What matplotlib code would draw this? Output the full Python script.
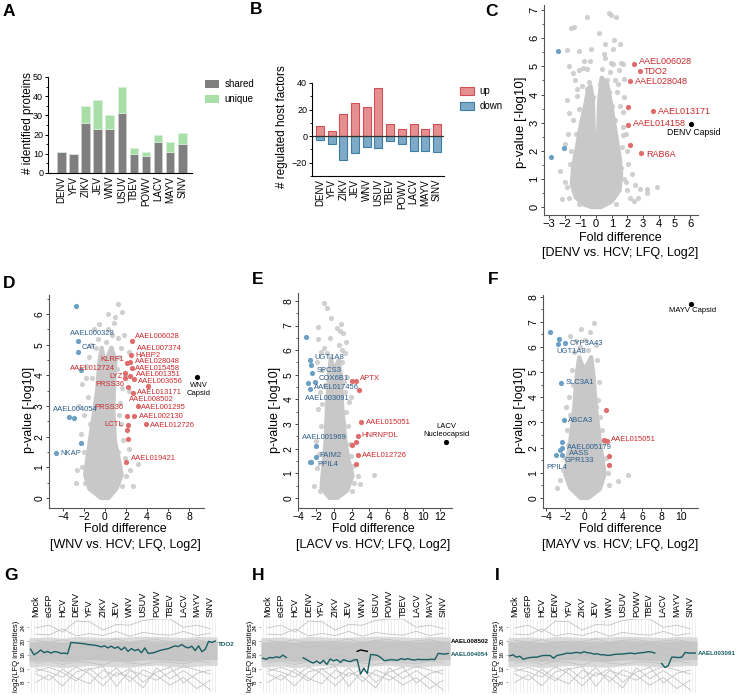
import numpy as np
import matplotlib
matplotlib.use('Agg')
import matplotlib.pyplot as plt
from matplotlib.patches import Patch
from matplotlib.ticker import MultipleLocator
from matplotlib.transforms import blended_transform_factory

plt.rcParams['font.family'] = ['Liberation Sans', 'DejaVu Sans']

# ======================= DATA =======================
viruses = ['DENV', 'YFV', 'ZIKV', 'JEV', 'WNV', 'USUV', 'TBEV', 'POWV', 'LACV', 'MAYV', 'SINV']
A_shared = [11, 10, 26, 23, 23, 31, 10, 9, 16, 11, 15]
A_unique = [0, 0, 9, 15, 7, 14, 3, 2, 4, 5, 6]
B_up = [8, 4, 17, 25, 22, 36, 9, 5, 9, 5, 9]
B_down = [-3, -6, -18, -13, -8, -9, -4, -6, -11, -11, -12]

# ---- volcano C (DENV vs HCV)
C_up_x = [2.43, 2.81, 2.19, 2.06, 3.66, 2.06, 2.17, 2.87]
C_up_y = [5.08, 4.84, 4.47, 3.56, 3.41, 2.91, 2.20, 1.93]
C_dn_x = [-2.40, -2.04, -2.87]
C_dn_y = [5.54, 2.10, 1.77]
C_cap = (6.08, 2.95)
C_core_x = [0.3, 1.0, 1.5, 1.6, 1.5, 1.35, 1.15, 0.95, 0.7, 0.35, 0.2, 0.04, -0.04, -0.2, -0.35, -0.5, -0.7, -0.95, -1.2, -1.45, -1.55, -1.3, -0.8, -0.3]
C_core_y = [0.0, 0.2, 0.6, 1.2, 1.8, 2.3, 3.0, 3.7, 4.4, 4.6, 3.8, 0.9, 0.9, 3.8, 4.3, 4.2, 3.6, 3.0, 2.2, 1.5, 0.8, 0.35, 0.1, 0.0]
C_gx = [-0.55, 0.85, 0.94, 1.25, -1.6, -1.38, 0.57, 1.14, -1.06, -1.87, 0.53, 1.5, -1.7, -0.85, -0.6, 0.94, 1.06, 1.6, 1.7, 1.45,
        -1.44, -1.06, -1.32, -0.45, 0.26, 0.68, 1.4, 1.81, -1.87, -1.19, -0.17, 0.57, 1.32, 1.79, -1.7, 1.72, 1.23, 1.74, 1.74, -1.76,
        -1.98, -1.02, 1.64, 1.96, -1.68, 2.06, 2.28, -1.87, -1.7, 2.81, 3.23, 3.87, 3.23, 2.17, 2.7,
        -1.2, 0.9, 1.2, -0.9, 1.55, -1.5, 1.9, -1.6, 1.8, 2.0, -2.0, -2.2, 1.3, 2.4, -1.1, 0.6, -0.3, 0.2, -0.8, 1.0,
        -1.3, 0.8, -0.6, 1.6, -1.5, 1.9, 2.5, -2.3, 1.1, -1.1, -0.4, 0.4]
C_gy = [6.77, 6.88, 6.83, 6.77, 6.38, 6.40, 5.81, 5.93, 5.54, 5.57, 5.44, 5.80, 5.02, 4.93, 4.90, 5.13, 5.08, 5.13, 5.08, 4.87,
        4.77, 4.86, 4.51, 4.45, 4.38, 4.50, 4.38, 4.56, 3.80, 3.94, 3.92, 3.80, 4.10, 3.92, 3.33, 3.39, 3.09, 2.85, 2.56, 2.59,
        2.23, 1.99, 2.12, 1.99, 1.52, 1.52, 1.16, 0.70, 0.34, 0.66, 0.66, 0.70, 0.50, 0.34, 0.34,
        4.2, 4.8, 4.5, 4.3, 3.6, 3.1, 2.6, 2.0, 1.0, 0.6, 0.9, 0.3, 0.1, 0.2, 0.1, 5.3, 5.6, 6.2, 5.2, 3.6,
        2.6, 4.1, 4.2, 1.4, 1.1, 0.9, 0.8, 1.3, 5.6, 3.5, 5.2, 4.9]

# ---- volcano D (WNV vs HCV)
D_up_x = [2.57, 2.48, 2.06, 2.38, 2.60, 1.94, 2.38, 2.79, 1.95, 4.06, 2.16, 2.63, 3.11, 2.06, 2.79, 3.87, 2.16, 2.10, 2.22, 1.97]
D_up_y = [5.13, 4.67, 4.40, 4.42, 4.25, 4.09, 3.98, 3.87, 3.92, 3.64, 3.61, 3.41, 3.00, 2.68, 2.67, 2.40, 2.37, 2.22, 1.91, 1.18]
D_dn_x = [-2.76, -2.57, -2.60, -2.32, -3.40, -2.95, -2.30, -4.67]
D_dn_y = [6.27, 5.12, 4.77, 4.16, 2.65, 2.62, 1.78, 1.46]
D_cap = (8.79, 3.93)
D_core_x = [0.35, 1.1, 1.6, 1.3, 0.95, 0.8, 0.9, 1.0, 0.6, 0.15, 0.03, -0.03, -0.15, -0.3, -0.55, -0.75, -1.0, -1.45, -1.9, -1.5, -0.4]
D_core_y = [0.0, 0.3, 0.75, 1.3, 1.85, 2.9, 4.0, 4.5, 4.9, 4.5, 1.0, 1.0, 4.6, 4.9, 4.4, 3.5, 2.9, 1.85, 0.75, 0.3, 0.0]
D_gx = [1.27, 1.59, -0.54, 0.63, 1.27, 0.3, 0.9, -1.3, 1.5, -1.8, -0.9, 1.3, -2.2, 1.6, -1.6, 1.4, -2.0, 1.5, -2.3, 1.7,
        -2.63, 1.9, -2.8, 2.0, 2.4, 3.1, 2.7, -2.0, 1.0, -1.0, 2.3, 2.25, 1.8, -1.5, 0.3, -2.5, -1.2, 1.1, -1.4, 1.2,
        -1.9, 1.6, 2.3, -0.7, 0.6, 1.9, -2.2, 1.3, -1.8, 0.1]
D_gy = [6.34, 6.06, 5.67, 5.32, 5.21, 5.5, 5.7, 5.0, 4.9, 4.3, 4.9, 4.6, 3.7, 3.6, 3.3, 3.1, 2.7, 2.4, 2.1, 1.9,
        0.9, 1.3, 0.5, 0.7, 0.9, 1.1, 0.4, 1.5, 5.9, 5.5, 3.5, 4.75, 5.3, 4.6, 6.0, 3.0, 3.9, 4.2, 2.4, 1.5,
        0.5, 0.4, 1.6, 5.2, 4.9, 4.0, 1.0, 2.7, 3.9, 5.1]

# ---- volcano E (LACV vs HCV)
E_up_x = [1.98, 2.43, 2.80, 3.10, 2.73, 2.43, 1.98, 2.69, 2.43]
E_up_y = [4.75, 4.75, 4.38, 3.07, 2.51, 2.25, 2.14, 1.74, 1.36]
E_dn_x = [-3.18, -2.69, -2.54, -2.50, -2.17, -2.92, -2.69, -2.06, -2.06, -2.73, -2.54]
E_dn_y = [6.55, 5.60, 5.40, 5.06, 4.72, 4.65, 4.41, 2.10, 1.67, 1.44, 1.44]
E_cap = (12.63, 2.25)
E_core_x = [0.4, 1.5, 2.1, 1.6, 1.3, 0.95, 0.75, 0.55, 0.12, 0.03, -0.03, -0.12, -0.35, -0.55, -0.8, -0.95, -1.3, -1.4, -0.5]
E_core_y = [0.0, 0.3, 0.9, 1.6, 2.3, 3.6, 5.0, 5.6, 5.3, 1.2, 1.2, 5.3, 5.7, 5.0, 3.6, 2.3, 0.9, 0.4, 0.0]
E_gx = [-1.12, -0.75, -1.79, 0.75, 0.67, 1.0, 1.31, -1.76, -1.12, -1.5, 0.6, -0.5, 1.2, -1.9, 0.9, -1.3, 1.5, -1.6, 1.2, -1.8,
        1.4, 1.6, -1.5, 1.8, -1.7, 2.2, -1.9, 4.48, 2.99, 2.3, -2.2, 2.7, 0.3, 1.1, -0.3, 1.9, -1.0, 0.9, -0.8, 1.7,
        -1.3, 1.0, -2.0, 1.9, -1.4, 1.5, -1.6, 2.0]
E_gy = [7.91, 7.73, 6.93, 7.06, 6.78, 6.69, 6.35, 6.45, 6.08, 5.94, 6.2, 6.5, 5.9, 5.5, 5.5, 5.2, 4.9, 4.3, 4.3, 3.6,
        3.5, 2.9, 2.9, 2.2, 1.8, 1.3, 1.2, 0.92, 0.58, 0.6, 0.5, 0.9, 6.9, 4.7, 7.3, 4.1, 4.6, 6.0, 5.9, 3.9,
        3.8, 3.0, 2.3, 1.7, 1.4, 0.7, 0.3, 0.3]

# ---- volcano F (MAYV vs HCV)
F_up_x = [2.24, 2.03, 2.31, 2.59, 2.55]
F_up_y = [3.51, 2.31, 2.25, 1.65, 1.32]
F_dn_x = [-3.55, -2.69, -2.76, -2.07, -2.41, -2.17, -2.34, -2.34, -2.59, -2.93, -2.34]
F_dn_y = [6.59, 6.32, 6.12, 6.18, 4.59, 3.11, 2.21, 1.98, 1.89, 1.72, 1.72]
F_cap = (11.1, 7.71)
F_core_x = [0.4, 1.6, 2.1, 1.6, 1.2, 0.93, 0.7, 0.15, 0.03, -0.03, -0.15, -0.55, -0.8, -1.07, -1.48, -2.0, -1.5, -0.4]
F_core_y = [0.0, 0.35, 0.95, 2.25, 3.57, 4.9, 5.6, 5.2, 1.2, 1.2, 5.2, 5.6, 4.9, 3.57, 2.25, 0.95, 0.4, 0.0]
F_gx = [1.03, -1.48, -0.9, -0.62, 0.4, 1.3, -1.3, 1.5, -1.6, 1.4, -1.5, 1.6, -1.8, 1.9, -2.0, 2.2, 4.55, 3.45, -2.59, -2.86,
        2.4, -0.4, 0.1, -1.1, 1.2, 0.8, -1.9, 1.0, -1.2, 0.9, -0.5, 1.8, -1.7, 2.6, -2.2, 1.5, -0.9, 1.2, 0.6, -1.3]
F_gy = [6.94, 6.42, 6.24, 5.38, 5.9, 5.5, 5.1, 4.6, 4.0, 3.9, 3.3, 3.2, 2.7, 2.2, 1.6, 1.6, 0.9, 0.66, 0.73, 0.4,
        1.0, 6.7, 6.3, 5.8, 6.1, 5.1, 3.6, 2.0, 4.5, 4.4, 6.0, 2.7, 2.1, 0.5, 1.1, 1.3, 4.1, 3.6, 6.6, 2.5]

# ---- profile panels G/H/I
conditions = ['Mock', 'eGFP', 'HCV', 'DENV', 'YFV', 'ZIKV', 'JEV', 'WNV', 'USUV', 'POWV', 'TBEV', 'LACV', 'MAYV', 'SINV']
band_outer_hi = [21.0, 21.2, 20.8, 21.3, 21.2, 21.0, 21.1, 21.2, 21.4, 21.3, 21.2, 21.0, 21.3, 21.2]
band_outer_lo = [12.5, 12.8, 12.2, 12.6, 12.9, 12.7, 12.5, 12.4, 12.8, 13.0, 12.6, 12.4, 12.7, 12.9]
band_inner_hi = [19.8, 20.0, 19.6, 20.1, 19.9, 19.8, 20.0, 19.9, 20.2, 20.0, 19.9, 19.8, 20.1, 20.0]
band_inner_lo = [14.2, 14.5, 14.0, 14.3, 14.6, 14.4, 14.2, 14.1, 14.5, 14.6, 14.3, 14.1, 14.4, 14.6]
bg_lines = [
    [23.8, 24.6, 22.6, 25.8, 25.6, 23.2, 24.8, 24.6, 26.0, 26.4, 26.4, 24.0, 24.6, 23.6],
    [22.0, 21.8, 23.5, 21.5, 22.2, 21.6, 22.8, 21.4, 22.5, 22.0, 21.7, 22.8, 21.6, 22.3],
    [8.0, 10.2, 7.0, 11.0, 12.0, 9.0, 12.2, 8.2, 11.6, 10.0, 7.2, 9.4, 6.2, 8.6],
    [10.5, 8.6, 11.8, 9.2, 7.6, 11.5, 9.8, 12.0, 8.0, 11.0, 12.4, 7.8, 10.6, 11.6],
    [12.0, 11.0, 9.5, 12.5, 10.5, 7.0, 10.8, 9.6, 6.4, 12.2, 9.0, 11.4, 8.8, 5.8],
    [11.2, 12.4, 10.8, 8.4, 11.8, 12.6, 6.8, 11.4, 10.2, 8.6, 11.0, 12.6, 11.6, 10.4],
    [18.5, 17.8, 19.2, 18.0, 18.8, 17.6, 18.4, 19.0, 17.8, 18.6, 19.2, 18.0, 17.6, 18.8],
    [15.2, 16.0, 14.8, 15.6, 14.6, 16.2, 15.0, 14.4, 15.8, 15.0, 14.6, 16.0, 15.4, 14.8],
    [20.2, 19.6, 20.4, 19.4, 20.0, 19.8, 20.6, 19.6, 20.2, 20.4, 19.8, 20.0, 20.4, 19.6],
    [13.6, 14.2, 13.2, 14.0, 13.8, 13.0, 14.4, 13.6, 13.2, 14.0, 13.8, 13.4, 14.2, 13.6],
]
nan = np.nan
G_TDO2 = [17.6, 16.0, 16.6, 17.4, 16.6, 17.0, 16.5, 16.9, 16.8, 16.4, 16.5, 16.3,
          19.6, 19.5, 19.4, 19.3, 19.2, 19.0, 18.9, 18.8, 18.6, 18.3, 18.6, 18.0,
          18.5, 17.9, 18.3, 17.4, 18.2, 17.0, 17.8, 17.2, 17.6, 16.6, 18.0, 16.4,
          16.5, 16.7, 17.1, 17.4, 17.6, 17.8, 18.2, 18.6, 18.4, 19.0, 18.3, 18.0,
          18.5, 17.2, 18.6, 16.9, 17.6, 19.9, 19.6, 20.0]
H_AAEL004054 = [15.0, 14.7, 15.2, 15.1, 15.4, 15.2, 15.9, 15.2, nan, nan, nan, nan,
                15.1, 14.6, 14.0, 13.6, 14.2, 13.5, 14.4, 13.2, 14.8, 14.2, 14.6, 13.8,
                14.6, 14.2, 14.0, 14.5, 14.6, 10.4, 12.1, 10.6, 16.1, 16.0, 15.8, 15.2,
                14.3, 14.4, 14.6, 14.5, 14.4, 14.9, 14.6, 14.9, 14.6, 14.5, 14.7, 14.6,
                14.6, 14.6, 14.7, 14.6, 16.4, 16.3, 16.2, 16.4]
H_AAEL008502 = [nan] * 28 + [17.0, 17.4, 17.2, 17.0] + [nan] * 24
I_AAEL003091 = [15.7, 16.0, 15.3, 15.6, 14.7, 15.0, 15.2, 15.3, 15.3, 15.6, 15.8, 15.8,
                15.8, 15.0, 15.8, 16.0, 16.2, 16.5, 16.4, 16.6, 16.7, 16.5, 16.9, 16.6,
                16.5, 16.2, 16.3, 16.0, 16.0, 15.8, 15.9, 16.1, 16.2, 16.2, 16.3, 16.4,
                16.5, 16.3, 16.5, 16.6, 16.7, 16.9, 16.8, 16.5, nan, 13.5, 12.3, 12.9,
                15.3, 15.3, 15.2, 15.3, 16.7, 16.5, 16.5, 16.5]

# ======================= LAYOUT / STYLE =======================
W, H = 740, 695
fig = plt.figure(figsize=(W / 100, H / 100), dpi=100)

RED_DOT, RED_TXT = '#e06b6b', '#c8282c'
BLUE_DOT, BLUE_TXT = '#6c9fc4', '#2c5e8c'
GRAY = '#c8c8c8'
TEAL = '#195f63'


def add_ax(l, t, r, b):
    return fig.add_axes([l / W, 1 - b / H, (r - l) / W, (b - t) / H])


def ftext(x, y, s, **kw):
    fig.text(x / W, 1 - y / H, s, **kw)


for lab, (x, y) in zip('ABCDEFGHI', [(3, 11), (250, 10), (485, 11), (3, 283), (252, 280), (488, 280),
                                      (4, 575), (252, 576), (495, 576)]):
    ftext(x, y, lab, fontsize=12.5, fontweight='bold', va='center', ha='left')

# ---------------- A ----------------
axA = add_ax(48, 77, 192, 173)
xa = np.arange(len(viruses))
axA.bar(xa, A_shared, width=0.7, color='#7f7f7f', edgecolor='#cfcfcf', linewidth=0.5)
axA.bar(xa, A_unique, bottom=A_shared, width=0.7, color='#a8dfa8', edgecolor='#d8f0d8', linewidth=0.5)
axA.set_xlim(-1.1, 10.8)
axA.set_ylim(0, 50)
axA.set_xticks(xa)
axA.set_xticklabels(viruses, rotation=90, fontsize=7)
axA.yaxis.set_major_locator(MultipleLocator(10))
axA.yaxis.set_minor_locator(MultipleLocator(5))
axA.tick_params(axis='y', labelsize=6.5, length=2.5, width=0.7, pad=1)
axA.tick_params(axis='y', which='minor', length=1.5, width=0.6)
axA.tick_params(axis='x', length=0, pad=2)
for s in ['top', 'right']:
    axA.spines[s].set_visible(False)
for s in ['left', 'bottom']:
    axA.spines[s].set_linewidth(0.8)
ftext(28, 123, '# identified proteins', rotation=90, fontsize=8.5, ha='center', va='center')
fig.legend([Patch(facecolor='#7f7f7f'), Patch(facecolor='#a8dfa8')], ['shared', 'unique'],
           loc='upper left', bbox_to_anchor=(205 / W, 1 - 79 / H), frameon=False, fontsize=7,
           handlelength=1.4, handleheight=0.9, handletextpad=0.6, labelspacing=0.55,
           borderaxespad=0, borderpad=0)

# ---------------- B ----------------
axB = add_ax(312, 83, 444, 176)
xb = np.arange(len(viruses))
axB.bar(xb, B_up, width=0.68, color='#e58f91', edgecolor='#cf4f54', linewidth=0.8)
axB.bar(xb, B_down, width=0.68, color='#7eaac8', edgecolor='#3d7ea6', linewidth=0.8)
axB.axhline(0, color='#333333', lw=0.9)
axB.set_xlim(-0.68, 10.6)
axB.set_ylim(-30, 40)
axB.set_xticks(xb)
axB.set_xticklabels(viruses, rotation=90, fontsize=7)
axB.set_yticks([-20, 0, 20, 40])
axB.yaxis.set_minor_locator(MultipleLocator(10))
axB.tick_params(axis='y', labelsize=6.5, length=2.5, width=0.7, pad=1)
axB.tick_params(axis='y', which='minor', length=1.5, width=0.6)
axB.tick_params(axis='x', length=0, pad=2)
for s in ['top', 'right']:
    axB.spines[s].set_visible(False)
for s in ['left', 'bottom']:
    axB.spines[s].set_linewidth(0.8)
ftext(282, 127, '# regulated host factors', rotation=90, fontsize=8.5, ha='center', va='center')
fig.legend([Patch(facecolor='#e58f91', edgecolor='#cf4f54', lw=0.8),
            Patch(facecolor='#7eaac8', edgecolor='#3d7ea6', lw=0.8)], ['up', 'down'],
           loc='upper left', bbox_to_anchor=(460 / W, 1 - 86 / H), frameon=False, fontsize=7,
           handlelength=1.4, handleheight=0.9, handletextpad=0.6, labelspacing=0.55,
           borderaxespad=0, borderpad=0)


# ---------------- volcano helper ----------------
def volcano(box, xlim, ylim, xstep, core_x, core_y, gx, gy, upx, upy, dnx, dny, cap, tick_fs):
    ax = add_ax(*box)
    ax.fill(core_x, core_y, facecolor=GRAY, edgecolor=GRAY, linewidth=3.0, joinstyle='round', zorder=1)
    ax.scatter(gx, gy, s=14, color=GRAY, alpha=0.85, linewidths=0, zorder=2)
    ax.scatter(dnx, dny, s=14, color=BLUE_DOT, linewidths=0, zorder=3)
    ax.scatter(upx, upy, s=14, color=RED_DOT, linewidths=0, zorder=3)
    ax.scatter([cap[0]], [cap[1]], s=14, color='black', linewidths=0, zorder=4)
    ax.set_xlim(*xlim)
    ax.set_ylim(*ylim)
    ax.xaxis.set_major_locator(MultipleLocator(xstep))
    ax.yaxis.set_major_locator(MultipleLocator(1))
    ax.yaxis.set_minor_locator(MultipleLocator(0.5))
    ax.tick_params(axis='both', labelsize=tick_fs, length=2.2, width=0.7, pad=1.0, color='#444444')
    ax.tick_params(axis='y', which='minor', length=1.4, width=0.6, color='#444444')
    ax.tick_params(axis='y', labelrotation=90)
    for t in ax.get_yticklabels():
        t.set_va('center')
    for s in ['top', 'right']:
        ax.spines[s].set_visible(False)
    for s in ['left', 'bottom']:
        ax.spines[s].set_linewidth(0.8)
        ax.spines[s].set_color('#555555')
    return ax


def labels(ax, items, color, fs):
    for name, x, y, ha in items:
        ax.text(x, y, name, color=color, fontsize=fs, ha=ha, va='center', zorder=5)


# ---------------- C ----------------
axC = volcano((544, 5, 698, 215), (-3.32, 6.5), (-0.28, 7.18), 1, C_core_x, C_core_y, C_gx, C_gy,
              C_up_x, C_up_y, C_dn_x, C_dn_y, C_cap, 8)
labels(axC, [('AAEL006028', 2.74, 5.16, 'left'), ('TDO2', 3.06, 4.83, 'left'),
             ('AAEL028048', 2.45, 4.45, 'left'), ('AAEL013171', 3.94, 3.41, 'left'),
             ('AAEL014158', 2.38, 2.97, 'left'), ('RAB6A', 3.23, 1.87, 'left')], RED_TXT, 6.5)
axC.text(6.21, 2.65, 'DENV Capsid', fontsize=6.2, ha='center', va='center', color='black')
ftext(521, 122, 'p-value [-log10]', rotation=90, fontsize=9.5, ha='center', va='center')
ftext(620, 238, 'Fold difference', fontsize=9, ha='center', va='center')
ftext(620, 253, '[DENV vs. HCV; LFQ, Log2]', fontsize=9, ha='center', va='center')

# ---------------- D ----------------
axD = volcano((49, 295, 204, 508), (-5.33, 9.43), (-0.33, 6.62), 2, D_core_x, D_core_y, D_gx, D_gy,
              D_up_x, D_up_y, D_dn_x, D_dn_y, D_cap, 7.5)
labels(axD, [('AAEL006028', 2.86, 5.26, 'left'), ('AAEL007374', 3.08, 4.86, 'left'),
             ('HABP2', 2.86, 4.64, 'left'), ('AAEL028048', 2.86, 4.45, 'left'),
             ('AAEL015458', 2.86, 4.23, 'left'), ('AAEL001351', 3.0, 4.01, 'left'),
             ('AAEL003656', 3.1, 3.79, 'left'), ('AAEL013171', 3.08, 3.45, 'left'),
             ('AAEL008502', 2.32, 3.22, 'left'), ('AAEL001295', 3.43, 2.96, 'left'),
             ('AAEL002130', 3.24, 2.67, 'left'), ('AAEL012726', 4.29, 2.37, 'left'),
             ('AAEL019421', 2.44, 1.29, 'left'),
             ('KLRF1', 1.81, 4.50, 'right'), ('AAEL012724', 0.95, 4.23, 'right'),
             ('LYZ', 1.68, 3.96, 'right'), ('PRSS36', 1.84, 3.71, 'right'),
             ('PRSS36', 1.81, 2.95, 'right'), ('LCTL', 1.68, 2.40, 'right')], RED_TXT, 5.5)
labels(axD, [('AAEL000328', -1.22, 5.37, 'center'), ('CAT', -2.19, 4.91, 'left'),
             ('AAEL004054', -2.84, 2.89, 'center'), ('NKAP', -4.22, 1.46, 'left')], BLUE_TXT, 5.5)
axD.text(8.9, 3.53, 'WNV\nCapsid', fontsize=5.5, ha='center', va='center', color='black', linespacing=1.3)
ftext(29, 410, 'p-value [-log10]', rotation=90, fontsize=9, ha='center', va='center')
ftext(125, 529, 'Fold difference', fontsize=9, ha='center', va='center')
ftext(125, 545, '[WNV vs. HCV; LFQ, Log2]', fontsize=9, ha='center', va='center')

# ---------------- E ----------------
axE = volcano((298, 293, 452, 508), (-4.05, 13.3), (-0.41, 8.32), 2, E_core_x, E_core_y, E_gx, E_gy,
              E_up_x, E_up_y, E_dn_x, E_dn_y, E_cap, 7.5)
labels(axE, [('UGT1A8', -2.24, 5.71, 'left'), ('SPCS3', -1.98, 5.17, 'left'),
             ('COX6B1', -1.76, 4.83, 'left'), ('AAEL017456', -2.24, 4.48, 'left'),
             ('AAEL003091', -0.75, 4.03, 'center'), ('AAEL001969', -1.05, 2.44, 'center'),
             ('FAIM2', -1.61, 1.71, 'left'), ('PPIL4', -1.87, 1.37, 'left')], BLUE_TXT, 5.5)
labels(axE, [('APTX', 2.88, 4.86, 'left'), ('AAEL015051', 3.63, 3.07, 'left'),
             ('HNRNPDL', 3.10, 2.55, 'left'), ('AAEL012726', 3.18, 1.74, 'left')], RED_TXT, 5.5)
axE.text(12.63, 2.73, 'LACV\nNucleocapsid', fontsize=5.5, ha='center', va='center', color='black', linespacing=1.3)
ftext(275, 410, 'p-value [-log10]', rotation=90, fontsize=9, ha='center', va='center')
ftext(373, 529, 'Fold difference', fontsize=9, ha='center', va='center')
ftext(373, 545, '[LACV vs. HCV; LFQ, Log2]', fontsize=9, ha='center', va='center')

# ---------------- F ----------------
axF = volcano((543, 295, 698, 508), (-4.31, 11.8), (-0.4, 8.07), 2, F_core_x, F_core_y, F_gx, F_gy,
              F_up_x, F_up_y, F_dn_x, F_dn_y, F_cap, 7.5)
labels(axF, [('CYP3A43', -1.59, 6.15, 'left'), ('UGT1A8', -1.38, 5.82, 'center'),
             ('SLC3A1', -1.9, 4.59, 'left'), ('ABCA3', -1.76, 3.07, 'left'),
             ('AAEL005179', -1.83, 2.01, 'left'), ('AASS', -1.66, 1.75, 'left'),
             ('GPR133', -2.1, 1.48, 'left'), ('PPIL4', -2.83, 1.23, 'center')], BLUE_TXT, 5.5)
labels(axF, [('AAEL015051', 2.76, 2.31, 'left')], RED_TXT, 5.5)
axF.text(11.28, 7.45, 'MAYV Capsid', fontsize=5.5, ha='center', va='center', color='black')
ftext(520, 410, 'p-value [-log10]', rotation=90, fontsize=9, ha='center', va='center')
ftext(620, 529, 'Fold difference', fontsize=9, ha='center', va='center')
ftext(620, 545, '[MAYV vs. HCV; LFQ, Log2]', fontsize=9, ha='center', va='center')


# ---------------- G / H / I ----------------
def profile(box, ylab_x, series):
    ax = add_ax(*box)
    n = 4 * len(conditions)
    xs = np.arange(n)
    ylo, yhi = 4.9, 26.4
    gc = np.arange(len(conditions)) * 4 + 1.5
    ax.vlines(xs, ylo, yhi, color='#e2e2e2', lw=0.4, zorder=0)
    xe = np.concatenate([[-0.5], gc, [n - 0.5]])

    def ext(v):
        return np.concatenate([[v[0]], v, [v[-1]]])

    ax.fill_between(xe, ext(band_outer_lo), ext(band_outer_hi), color='#d9d9d9', lw=0, zorder=1)
    ax.fill_between(xe, ext(band_inner_lo), ext(band_inner_hi), color='#c6c6c6', lw=0, zorder=1)
    for line in bg_lines:
        ax.plot(gc, line, color='#c2c2c2', lw=0.6, zorder=2)
    tr = blended_transform_factory(ax.transAxes, ax.transData)
    for vals, color, name, ly in series:
        ax.plot(xs, vals, color=color, lw=1.0, zorder=4)
        ax.text(1.006, ly, name, transform=tr, color=color, fontsize=4.5, fontweight='bold',
                ha='left', va='center')
    ax.set_xlim(-0.5, n - 0.5)
    ax.set_ylim(ylo, yhi)
    ax.xaxis.tick_top()
    ax.set_xticks(gc)
    ax.set_xticklabels(conditions, rotation=90, fontsize=6.5)
    ax.tick_params(axis='x', length=0, pad=1.5)
    ax.set_yticks([8, 12, 16, 20, 24])
    ax.tick_params(axis='y', labelsize=4.5, length=1.5, width=0.5, pad=1, labelrotation=90, color='#888888')
    for t in ax.get_yticklabels():
        t.set_va('center')
    for s in ax.spines.values():
        s.set_visible(False)
    ftext(ylab_x, 656, 'log2(LFQ intensities)', rotation=90, fontsize=5.5, ha='center', va='center')
    return ax


profile((29, 619, 217, 693), 17, [(G_TDO2, TEAL, 'TDO2', 18.9)])
profile((261, 619, 450, 693), 250, [(H_AAEL008502, 'black', 'AAEL008502', 19.9),
                                    (H_AAEL004054, TEAL, 'AAEL004054', 16.0)])
profile((508, 619, 697, 693), 497, [(I_AAEL003091, TEAL, 'AAEL003091', 16.5)])

fig.savefig('out.png', dpi=100)
